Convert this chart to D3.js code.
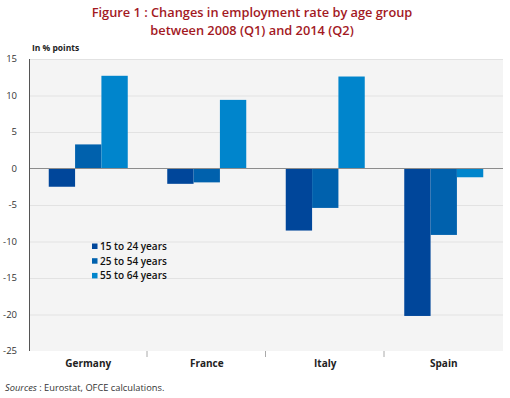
<!DOCTYPE html>
<html>
<head>
<meta charset="utf-8">
<script src="https://cdn.jsdelivr.net/npm/d3@7"></script>
<style>
  body { margin: 0; background: #fff; }
  text { font-family: "Open Sans", "DejaVu Sans", sans-serif; }
</style>
</head>
<body>
<svg id="chart" width="510" height="398"></svg>
<script>
var countries = ["Germany", "France", "Italy", "Spain"];
var ageGroups = ["15 to 24 years", "25 to 54 years", "55 to 64 years"];
var age15to24 = [-2.5, -2.1, -8.5, -20.2];
var age25to54 = [3.3, -1.9, -5.4, -9.1];
var age55to64 = [12.7, 9.4, 12.6, -1.2];
var yTicks = [15, 10, 5, 0, -5, -10, -15, -20, -25];
var colors = ["#00469a", "#0061ad", "#0085cc"];

var series = [age15to24, age25to54, age55to64];

var svg = d3.select("#chart");
// plot area (window.top is read-only, so no "top" here)
var plotL = 29, plotR = 503, plotT = 59, plotB = 351;

// title
svg.append("text")
  .attr("x", 252).attr("y", 17)
  .attr("text-anchor", "middle")
  .style("font-size", "12.8px").style("font-weight", "600")
  .style("fill", "#a3191f")
  .text("Figure 1 : Changes in employment rate by age group");
svg.append("text")
  .attr("x", 252).attr("y", 34.5)
  .attr("text-anchor", "middle")
  .style("font-size", "12.8px").style("font-weight", "600")
  .style("fill", "#a3191f")
  .text("between 2008 (Q1) and 2014 (Q2)");

svg.append("text")
  .attr("x", 32).attr("y", 51)
  .style("font-size", "8.5px").style("font-weight", "700")
  .style("fill", "#222")
  .text("In % points");

var y = d3.scaleLinear().domain([-25, 15]).range([plotB, plotT]);
var x0 = d3.scaleBand().domain(countries).range([plotL, plotR]);
var x1 = d3.scaleBand().domain(d3.range(3))
  .range([0, x0.bandwidth()]).paddingOuter(0.75);

// plot background
svg.append("rect")
  .attr("x", plotL).attr("y", plotT)
  .attr("width", plotR - plotL).attr("height", plotB - plotT)
  .attr("fill", "#f4f4f4");

// gridlines
svg.append("g").selectAll("line")
  .data(yTicks.filter(function(d){ return d != 0 && d != -25; }))
  .enter().append("line")
    .attr("x1", plotL).attr("x2", plotR)
    .attr("y1", function(d){ return y(d) + 0.5; })
    .attr("y2", function(d){ return y(d) + 0.5; })
    .attr("stroke", "#e2e2e2").attr("stroke-width", 1);

// bars
var groups = svg.append("g").selectAll("g")
  .data(countries)
  .enter().append("g")
    .attr("transform", function(d){ return "translate(" + x0(d) + ",0)"; });

groups.selectAll("rect")
  .data(function(d, i){ return series.map(function(s, j){ return {k: j, v: s[i]}; }); })
  .enter().append("rect")
    .attr("x", function(d){ return x1(d.k); })
    .attr("width", x1.bandwidth())
    .attr("y", function(d){ return y(Math.max(0, d.v)); })
    .attr("height", function(d){ return Math.abs(y(d.v) - y(0)); })
    .attr("fill", function(d){ return colors[d.k]; });

// zero line
svg.append("line")
  .attr("x1", plotL).attr("x2", plotR)
  .attr("y1", y(0)).attr("y2", y(0))
  .attr("stroke", "#8c8c8c").attr("stroke-width", 1.2);

// y axis
svg.append("line")
  .attr("x1", plotL + 0.5).attr("x2", plotL + 0.5)
  .attr("y1", plotT).attr("y2", plotB)
  .attr("stroke", "#555").attr("stroke-width", 1);

svg.append("g").selectAll("text")
  .data(yTicks)
  .enter().append("text")
    .attr("x", 17)
    .attr("y", function(d){ return y(d) + 3; })
    .attr("text-anchor", "end")
    .style("font-size", "9.5px").style("fill", "#333")
    .text(function(d){ return d; });

// category ticks + labels
svg.append("g").selectAll("line")
  .data(countries.slice(1))
  .enter().append("line")
    .attr("x1", function(d){ return x0(d) - 0.5; })
    .attr("x2", function(d){ return x0(d) - 0.5; })
    .attr("y1", plotB).attr("y2", plotB + 6)
    .attr("stroke", "#aaa");

svg.append("g").selectAll("text")
  .data(countries)
  .enter().append("text")
    .attr("x", function(d){ return x0(d) + x0.bandwidth() / 2; })
    .attr("y", 367)
    .attr("text-anchor", "middle")
    .style("font-size", "10px").style("font-weight", "700")
    .style("fill", "#222")
    .text(function(d){ return d; });

// legend
var legend = svg.append("g").selectAll("g")
  .data(ageGroups)
  .enter().append("g")
    .attr("transform", function(d, i){ return "translate(92," + (246 + i * 14.7) + ")"; });
legend.append("rect")
  .attr("x", 0).attr("y", -2.5).attr("width", 5.5).attr("height", 5.5)
  .attr("fill", function(d, i){ return colors[i]; });
legend.append("text")
  .attr("x", 8).attr("y", 4)
  .style("font-size", "10px").style("font-weight", "600")
  .style("fill", "#111")
  .text(function(d){ return d; });

// source
var src = svg.append("text")
  .attr("x", 5).attr("y", 391)
  .style("font-size", "9.3px").style("fill", "#333");
src.append("tspan").style("font-style", "italic").text("Sources");
src.append("tspan").text(" : Eurostat, OFCE calculations.");
</script>
</body>
</html>
